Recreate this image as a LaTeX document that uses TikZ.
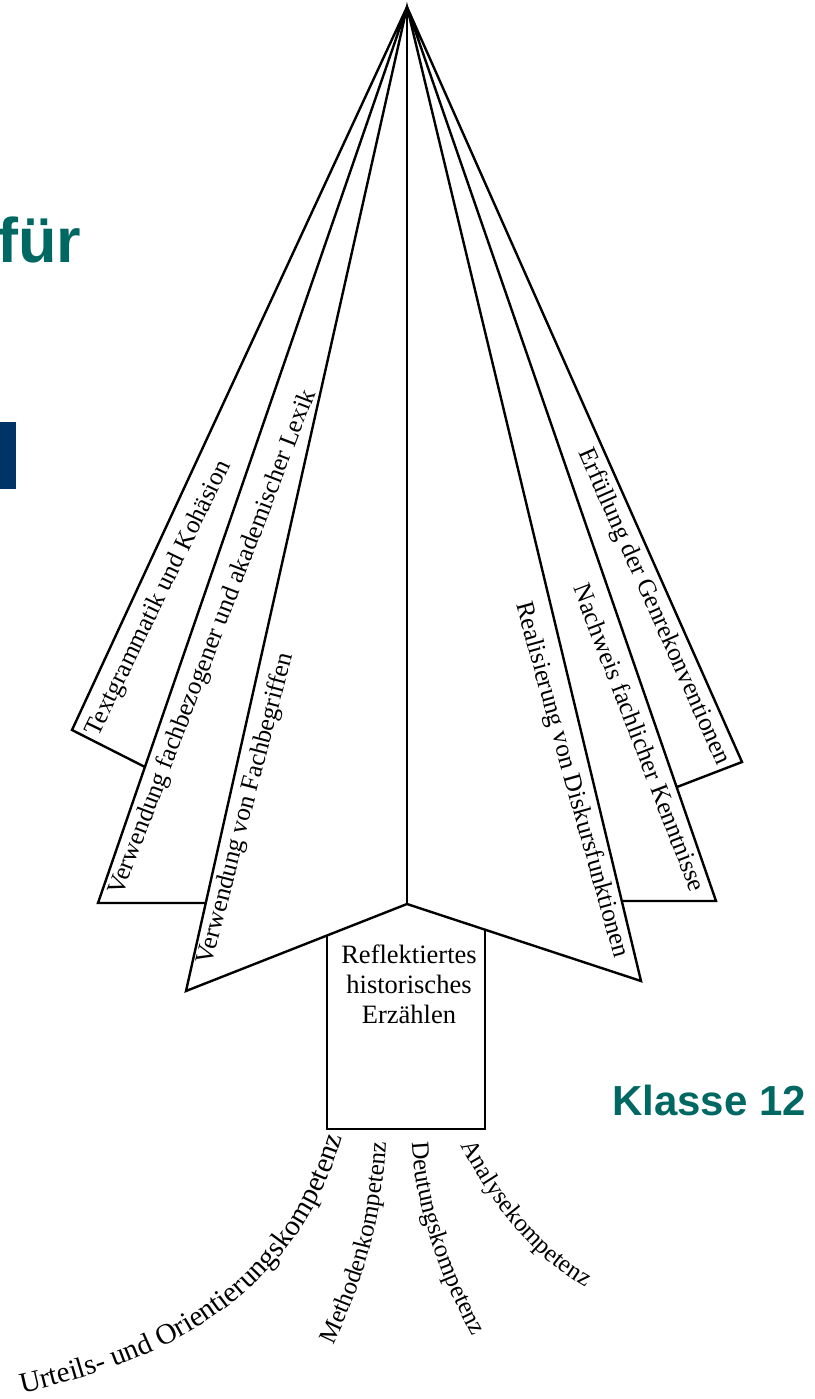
\documentclass[tikz,border=0pt]{standalone}
\usepackage{fontspec}
\setmainfont{Liberation Serif}
\newfontfamily\titlefont{Liberation Sans}
\usepackage{tikz}
\usetikzlibrary{calc}
\usetikzlibrary{decorations.text}
\definecolor{petrol}{RGB}{0,104,98}
\definecolor{navyblue}{RGB}{0,51,102}
\tikzset{
  wing/.style={black, line width=2.4pt, line join=miter},
  boxline/.style={black, line width=2.2pt},
  wingtext/.style={font=\fontsize{25.4}{25.4}\selectfont, inner sep=3pt, sloped, below},
  arctext/.style 2 args={decorate, decoration={text along path, text={|\fontsize{#1}{#1}\selectfont|#2}}},
  heading/.style={font=\titlefont\bfseries, text=petrol, inner sep=0pt, anchor=base west}
}

\begin{document}
\begin{tikzpicture}[x=1pt,y=-1pt]
\useasboundingbox (0,0) rectangle (814,1399);
\coordinate (apex) at (407,7);
\coordinate (mid) at (407,904);
\coordinate (l1) at (72,730);  \coordinate (l1e) at (145,767);
\coordinate (l2) at (98,903);  \coordinate (l2e) at (205,903);
\coordinate (l3) at (186,991);
\coordinate (r1) at (742,762); \coordinate (r1e) at (677,787);
\coordinate (r2) at (716,901); \coordinate (r2e) at (623,901);
\coordinate (r3) at (641,981);
\coordinate (boxnw) at (intersection of mid--l3 and 327,0--327,1200);
\coordinate (boxne) at (intersection of mid--r3 and 485,0--485,1200);
\draw[wing] (l1e) -- (l1) -- (apex) -- (l2) -- (l2e);
\draw[wing] (apex) -- (l3) -- (mid) -- (r3) -- cycle;
\draw[wing] (apex) -- (mid);
\draw[wing] (r1e) -- (r1) -- (apex) -- (r2) -- (r2e);
\draw[boxline] (boxnw) -- (327,1129) -- (485,1129) -- (boxne);
\path (l1) -- (apex) node[wingtext, pos=.196, below=9pt, rotate=-1] (tgk) {Textgrammatik und Kohäsion};
\path (l2) -- (apex) node[wingtext, pos=.3, below=9pt, rotate=-2] (vfl) {Verwendung fachbezogener und akademischer Lexik};
\path (l3) -- (apex) node[wingtext, pos=.19, below=4pt, rotate=-2] (vfb) {Verwendung von Fachbegriffen};
\path (apex) -- (r1) node[wingtext, pos=.785, below=3pt] (egk) {Erfüllung der Genrekonventionen};
\path (apex) -- (r2) node[wingtext, pos=.81, below=6pt, rotate=2] (nfk) {Nachweis fachlicher Kenntnisse};
\path (apex) -- (r3) node[wingtext, pos=.788, below=6pt, rotate=2] (rdf) {Realisierung von Diskursfunktionen};
\node[align=center, font=\fontsize{26.5}{30}\selectfont, inner sep=0pt] (rhe) at (409,984) {Reflektiertes\\historisches\\Erzählen};
\path[arctext={29}{Urteils- und Orientierungskompetenz}] (22,1393) .. controls (172,1360) and (312,1292) .. (352,1100);
\path[arctext={25}{Methodenkompetenz}] (333,1345) .. controls (360,1290) and (385,1220) .. (387,1120);
\path[arctext={25}{Deutungskompetenz}] (412,1142) .. controls (414,1200) and (440,1280) .. (480,1350);
\path[arctext={25}{Analysekompetenz}] (461,1145) .. controls (490,1200) and (530,1260) .. (600,1295);
\node[heading, font=\titlefont\bfseries\fontsize{63}{63}\selectfont] (fuer) at (-3,262) {für};
\node[heading, font=\titlefont\bfseries\fontsize{42}{42}\selectfont] (klasse) at (612,1115) {Klasse 12};
\fill[navyblue] (0,422) rectangle (16,489);
\end{tikzpicture}
\end{document}
